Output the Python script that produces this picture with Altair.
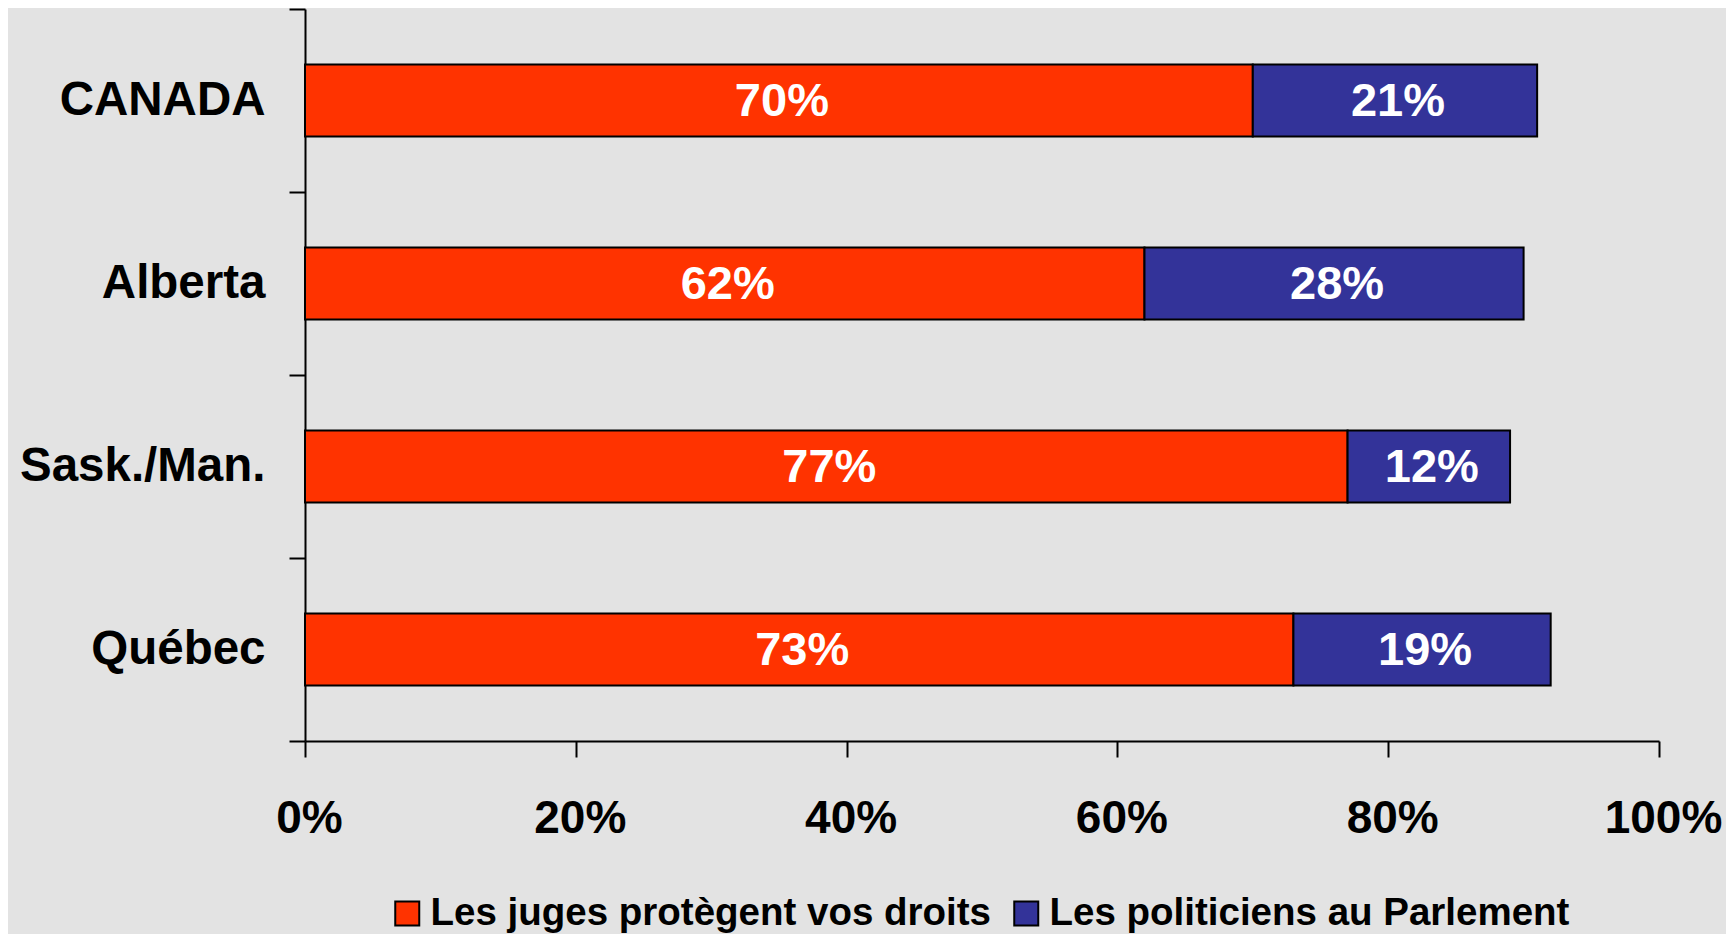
import altair as alt
import pandas as pd

regions = ["CANADA", "Alberta", "Sask./Man.", "Québec"]
juges = [70, 62, 77, 73]
politiciens = [21, 28, 12, 19]
series = ["Les juges protègent vos droits", "Les politiciens au Parlement"]
colors = ["#FF3300", "#333399"]
x_ticks = [0, 0.2, 0.4, 0.6, 0.8, 1.0]

rows = []
for r, j, p in zip(regions, juges, politiciens):
    rows.append({"region": r, "series": series[0], "order": 0, "value": j / 100, "label": f"{j}%"})
    rows.append({"region": r, "series": series[1], "order": 1, "value": p / 100, "label": f"{p}%"})
df = pd.DataFrame(rows)

FONT = "Liberation Sans"

base = alt.Chart(df).transform_stack(
    stack="value", groupby=["region"], as_=["v0", "v1"],
    sort=[alt.SortField("order", order="ascending")]
).transform_calculate(mid="(datum.v0 + datum.v1) / 2")

y_enc = alt.Y(
    "region:N", sort=regions, title=None,
    scale=alt.Scale(paddingInner=0, paddingOuter=0),
    axis=alt.Axis(
        tickBand="extent", tickSize=16, tickWidth=2, tickColor="black",
        domainColor="black", domainWidth=2, labelPadding=24, labelLimit=500,
        labelFont=FONT, labelFontSize=47.5, labelFontWeight="bold", labelColor="black",
        grid=False,
    ),
)

bars = base.mark_bar(stroke="black", strokeWidth=2, size=72).encode(
    x=alt.X(
        "v0:Q", title=None,
        scale=alt.Scale(domain=[0, 1], nice=False),
        axis=alt.Axis(
            values=x_ticks, format=".0%", tickSize=16, tickWidth=2, tickColor="black",
            domainColor="black", domainWidth=2, labelPadding=39, labelOffset=4,
            labelFont=FONT, labelFontSize=46, labelFontWeight="bold", labelColor="black",
            grid=False, labelFlush=False,
        ),
    ),
    x2="v1:Q",
    y=y_enc,
    color=alt.Color(
        "series:N",
        scale=alt.Scale(domain=series, range=colors),
        legend=alt.Legend(
            orient="none", legendX=83, legendY=885, direction="horizontal", title=None,
            symbolType="square", symbolSize=576, symbolStrokeColor="black",
            symbolStrokeWidth=2, labelFont=FONT, labelFontSize=38.5, labelFontWeight="bold",
            labelColor="black", labelLimit=900, labelOffset=4, columnPadding=16,
            padding=0,
        ),
    ),
)

labels = base.mark_text(
    color="white", font=FONT, fontSize=47, fontWeight="bold", baseline="middle", align="center",
    dx=3, dy=1,
).encode(
    x=alt.X("mid:Q"),
    y=alt.Y("region:N", sort=regions),
    text="label:N",
)

chart = alt.layer(bars, labels).properties(
    width=1354, height=732,
    autosize=alt.AutoSizeParams(type="none"),
    padding={"left": 297, "top": 1, "right": 67, "bottom": 193},
    background="#e3e3e3",
).configure_view(stroke=None)

chart.save("out.html", embed_options={"renderer": "svg", "actions": False})
